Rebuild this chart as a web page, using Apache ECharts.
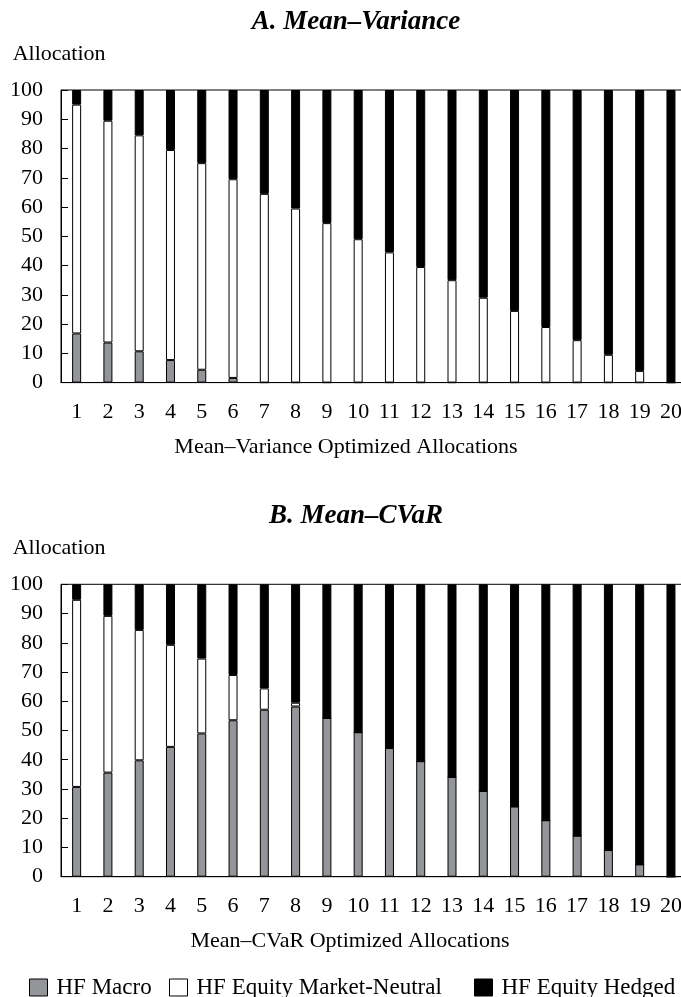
<!DOCTYPE html>
<html>
<head>
<meta charset="utf-8">
<script src="https://cdn.jsdelivr.net/npm/echarts@6/dist/echarts.min.js"></script>
<style>
  html, body { margin: 0; padding: 0; background: #fff; overflow: hidden; }
  /* the plot frame runs slightly past the right edge of the page */
  #chart { width: 692px; height: 997px; }
</style>
</head>
<body>
<div id="chart"></div>
<script>
// Portfolio numbers 1..20 along each x axis
const categories = ['1','2','3','4','5','6','7','8','9','10','11','12','13','14','15','16','17','18','19','20'];
const yTicks = [0, 10, 20, 30, 40, 50, 60, 70, 80, 90, 100];

// Panel A: mean–variance optimized allocations (percent)
const mvMacro   = [16.8, 13.7, 10.7, 7.7, 4.4, 1.6, 0, 0, 0, 0, 0, 0, 0, 0, 0, 0, 0, 0, 0, 0];
const mvNeutral = [78.2, 75.8, 73.8, 71.8, 70.6, 67.9, 64.5, 59.5, 54.5, 49, 44.5, 39.5, 35, 29, 24.5, 19, 14.5, 9.5, 4, 0];
const mvHedged  = [5, 10.5, 15.5, 20.5, 25, 30.5, 35.5, 40.5, 45.5, 51, 55.5, 60.5, 65, 71, 75.5, 81, 85.5, 90.5, 96, 100];

// Panel B: mean–CVaR optimized allocations (percent)
const cvMacro   = [30.7, 35.6, 39.8, 44.4, 49, 53.5, 57.1, 58.2, 54.3, 49.4, 44, 39.5, 34.1, 29.3, 24, 19.3, 14, 9.1, 4.2, 0];
const cvNeutral = [64, 53.6, 44.6, 34.9, 25.6, 15.5, 7.3, 1.3, 0, 0, 0, 0, 0, 0, 0, 0, 0, 0, 0, 0];
const cvHedged  = [5.3, 10.8, 15.6, 20.7, 25.4, 31, 35.6, 40.5, 45.7, 50.6, 56, 60.5, 65.9, 70.7, 76, 80.7, 86, 90.9, 95.8, 100];

const seriesNames = ['HF Macro', 'HF Equity Market-Neutral', 'HF Equity Hedged'];
const seriesColors = ['#949599', '#ffffff', '#000000'];

const FONT = 'Liberation Serif';
const ink = '#000';

const chart = echarts.init(document.getElementById('chart'), null, { renderer: 'canvas' });

function xAxisFor(gridIndex) {
  return {
    type: 'category', gridIndex, data: categories, boundaryGap: true,
    axisLine: { show: true, lineStyle: { color: ink, width: 1 } },
    axisTick: { show: false },
    axisLabel: { color: ink, fontFamily: FONT, fontSize: 22, margin: 19, interval: 0 },
    splitLine: { show: false }
  };
}
function yAxisFor(gridIndex) {
  return {
    type: 'value', gridIndex, min: yTicks[0], max: yTicks[yTicks.length - 1], interval: 10,
    axisLine: { show: true, lineStyle: { color: ink, width: 1 } },
    axisTick: { show: true, inside: true, length: 7, lineStyle: { color: ink, width: 1 } },
    axisLabel: { color: ink, fontFamily: FONT, fontSize: 22, margin: 18 },
    splitLine: { show: false }
  };
}
function barSeries(name, color, data, axisIndex, stack) {
  return {
    name, type: 'bar', stack, data,
    xAxisIndex: axisIndex, yAxisIndex: axisIndex,
    barWidth: 9,
    itemStyle: { color, borderColor: ink, borderWidth: 1 },
    emphasis: { disabled: true },
    animation: false
  };
}
function textEl(text, x, y, size, opts) {
  return {
    type: 'text', x, y, silent: true,
    style: Object.assign({
      text, fill: ink, font: size + 'px "' + FONT + '"',
      textAlign: 'center', textVerticalAlign: 'middle'
    }, opts || {})
  };
}
function legendFor(name, left) {
  return {
    data: [name], left, top: 976, padding: 0,
    itemWidth: 18, itemHeight: 17, itemGap: 0,
    icon: 'rect',
    itemStyle: { borderColor: ink, borderWidth: 1 },
    textStyle: { color: ink, fontFamily: FONT, fontSize: 23, padding: [0, 0, 0, 4] },
    selectedMode: false
  };
}

const titleFont = 'italic bold 27px "' + FONT + '"';

chart.setOption({
  animation: false,
  backgroundColor: '#fff',
  grid: [
    { left: 61, top: 90, width: 625.6, height: 292.6, show: true, borderColor: ink, borderWidth: 1, backgroundColor: 'transparent' },
    { left: 61, top: 584.3, width: 625.6, height: 292.4, show: true, borderColor: ink, borderWidth: 1, backgroundColor: 'transparent' }
  ],
  xAxis: [xAxisFor(0), xAxisFor(1)],
  yAxis: [yAxisFor(0), yAxisFor(1)],
  legend: [
    legendFor(seriesNames[0], 29),
    legendFor(seriesNames[1], 169),
    legendFor(seriesNames[2], 474)
  ],
  series: [
    barSeries(seriesNames[0], seriesColors[0], mvMacro, 0, 'mv'),
    barSeries(seriesNames[1], seriesColors[1], mvNeutral, 0, 'mv'),
    barSeries(seriesNames[2], seriesColors[2], mvHedged, 0, 'mv'),
    barSeries(seriesNames[0], seriesColors[0], cvMacro, 1, 'cv'),
    barSeries(seriesNames[1], seriesColors[1], cvNeutral, 1, 'cv'),
    barSeries(seriesNames[2], seriesColors[2], cvHedged, 1, 'cv')
  ],
  graphic: [
    textEl('A. Mean–Variance', 356, 22, 27, { font: titleFont }),
    textEl('Allocation', 12.7, 54, 22, { textAlign: 'left' }),
    textEl('Mean–Variance Optimized Allocations', 346, 447, 22),
    textEl('B. Mean–CVaR', 356, 516.3, 27, { font: titleFont }),
    textEl('Allocation', 12.7, 548.3, 22, { textAlign: 'left' }),
    textEl('Mean–CVaR Optimized Allocations', 350, 941, 22)
  ]
});
</script>
</body>
</html>
